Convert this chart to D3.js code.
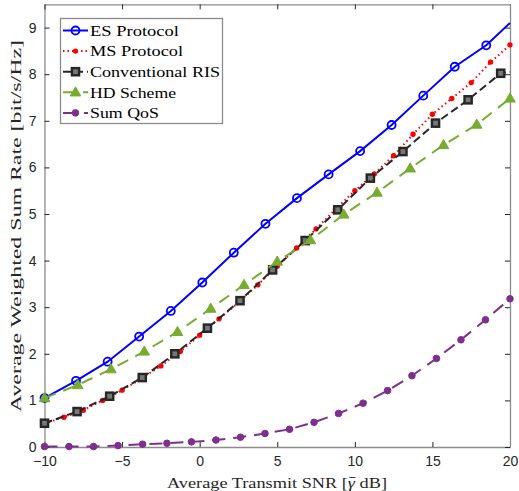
<!DOCTYPE html>
<html><head><meta charset="utf-8">
<script src="https://cdn.jsdelivr.net/npm/d3@7"></script>
<style>body{margin:0;background:#fff}svg{display:block}</style>
</head><body>
<svg id="c" width="519" height="491"></svg>
<script>
// ---- data ----
const esX  = [-10,-7.97,-5.93,-3.9,-1.86,0.17,2.2,4.24,6.27,8.31,10.34,12.37,14.41,16.44,18.47,20];
const esY  = [1.05,1.42,1.83,2.37,2.92,3.53,4.17,4.79,5.34,5.85,6.35,6.91,7.54,8.16,8.62,9.10];
const msX  = [-10,-8.75,-7.5,-6.25,-5,-3.75,-2.5,-1.25,0,1.25,2.5,3.75,5,6.25,7.5,8.75,10,11.25,12.5,13.75,15,16.25,17.5,18.75,20];
const msY  = [0.5,0.64,0.79,1.0,1.22,1.47,1.74,2.05,2.40,2.75,3.10,3.48,3.88,4.27,4.68,5.10,5.50,5.86,6.25,6.71,7.14,7.48,7.82,8.26,8.63];
const crX  = [-10,-7.9,-5.8,-3.7,-1.6,0.5,2.6,4.7,6.8,8.9,11.0,13.1,15.2,17.3,19.4,20];
const crY  = [0.51,0.76,1.09,1.49,2.0,2.55,3.14,3.80,4.43,5.09,5.77,6.34,6.95,7.45,8.02,8.05];
const hdX  = [-10,-7.857,-5.714,-3.571,-1.429,0.714,2.857,5,7.143,9.286,11.429,13.571,15.714,17.857,20];
const hdY  = [1.05,1.33,1.67,2.05,2.47,2.97,3.48,3.98,4.44,4.99,5.46,5.98,6.48,6.92,7.48];
const qosX = [-10,-8.42,-6.84,-5.26,-3.68,-2.11,-0.53,1.05,2.63,4.21,5.79,7.37,8.95,10.53,12.11,13.68,15.26,16.84,18.42,20];
const qosY = [0.01,0.01,0.01,0.03,0.06,0.08,0.11,0.15,0.21,0.29,0.38,0.53,0.72,0.94,1.21,1.53,1.90,2.30,2.73,3.18];
const names = ["ES Protocol","MS Protocol","Conventional RIS","HD Scheme","Sum QoS"];
const xTicks = [-10,-5,0,5,10,15,20];
const yTicks = [0,1,2,3,4,5,6,7,8,9];

// ---- layout ----
const L = 44.5, R = 510, T = 4.3, B = 447;
const x = d3.scaleLinear().domain([-10,20]).range([L,R]);
const y = d3.scaleLinear().domain([0,9.5]).range([B,T]);
const svg = d3.select("#c");
const tickColor = "#262626";
const serif = "'Liberation Serif','Times New Roman',serif";

const series = [
  {name:names[0], xs:esX, ys:esY, nMark:15, color:"#0000ff", dash:null, marker:"circle"},
  {name:names[1], xs:msX, ys:msY, nMark:25, color:"#ff0000", dash:"1.5,3", marker:"dot"},
  {name:names[2], xs:crX, ys:crY, nMark:15, color:"#262626", dash:"8,4", marker:"square"},
  {name:names[3], xs:hdX, ys:hdY, nMark:15, color:"#77ac30", dash:"12,8", marker:"triangle"},
  {name:names[4], xs:qosX, ys:qosY, nMark:20, color:"#7e2f8e", dash:"13,8", marker:"hex"}
];

// axes
const gx = svg.append("g").attr("transform",`translate(0,${B})`)
  .call(d3.axisBottom(x).tickValues(xTicks).tickSizeInner(-5).tickSizeOuter(0).tickPadding(9).tickFormat(d3.format("d")));
const gy = svg.append("g").attr("transform",`translate(${L},0)`)
  .call(d3.axisLeft(y).tickValues(yTicks).tickSizeInner(-5).tickSizeOuter(0).tickPadding(8).tickFormat(d3.format("d")));
const gx2 = svg.append("g").attr("transform",`translate(0,${T})`)
  .call(d3.axisTop(x).tickValues(xTicks).tickSizeInner(-5).tickSizeOuter(0).tickFormat(""));
const gy2 = svg.append("g").attr("transform",`translate(${R},0)`)
  .call(d3.axisRight(y).tickValues(yTicks).tickSizeInner(-5).tickSizeOuter(0).tickFormat(""));
[gx,gy,gx2,gy2].forEach(g=>{
  g.select(".domain").attr("stroke","#8c8c8c").attr("stroke-width",1.3);
  g.selectAll(".tick line").attr("stroke",tickColor);
  g.selectAll(".tick text").attr("fill",tickColor).style("font-family","'Liberation Sans',Arial,sans-serif").style("font-size","14px");
});

// series
const line = d3.line().x(d=>x(d[0])).y(d=>y(d[1]));
function drawMarker(g, type, cx, cy, color){
  if(type==="circle") g.append("circle").attr("cx",cx).attr("cy",cy).attr("r",4).attr("fill","none").attr("stroke",color).attr("stroke-width",1.8);
  else if(type==="dot") g.append("circle").attr("cx",cx).attr("cy",cy).attr("r",2.7).attr("fill",color);
  else if(type==="square") g.append("rect").attr("x",cx-3.6).attr("y",cy-3.6).attr("width",7.2).attr("height",7.2).attr("fill","#777").attr("stroke",color).attr("stroke-width",2.4);
  else if(type==="triangle") g.append("path").attr("d",d3.symbol().type(d3.symbolTriangle).size(48)()).attr("transform",`translate(${cx},${cy+0.6})`).attr("fill",color).attr("stroke",color).attr("stroke-width",1);
  else if(type==="hex") g.append("path").attr("d",d3.symbol().type(d3.symbolCircle).size(34)()).attr("transform",`translate(${cx},${cy})`).attr("fill",color).attr("stroke",color).attr("stroke-width",1);
}
series.forEach(s=>{
  const pts = s.xs.map((v,i)=>[v,s.ys[i]]);
  const g = svg.append("g");
  g.append("path").datum(pts).attr("d",line).attr("fill","none").attr("stroke",s.color)
    .attr("stroke-width",2).attr("stroke-dasharray",s.dash);
  pts.slice(0,s.nMark).forEach(p=>drawMarker(g,s.marker,x(p[0]),y(p[1]),s.color));
});

// legend
const lg = svg.append("g");
lg.append("rect").attr("x",60.5).attr("y",18.5).attr("width",162).attr("height",105).attr("fill","#fff").attr("stroke","#8c8c8c").attr("stroke-width",1.3);
const legW = [89,93,130,86,69];
series.forEach((s,i)=>{
  const yy = 30.5 + i*20.6;
  lg.append("line").attr("x1",63).attr("x2",88).attr("y1",yy).attr("y2",yy).attr("stroke",s.color).attr("stroke-width",2).attr("stroke-dasharray",s.dash);
  drawMarker(lg,s.marker,75.5,yy,s.color);
  lg.append("text").attr("x",90).attr("y",yy+5.3).text(s.name)
    .style("font-family",serif).style("font-size","15.5px").attr("fill","#000")
    .attr("textLength",legW[i]).attr("lengthAdjust","spacingAndGlyphs");
});

// axis titles
const xt = svg.append("text").attr("x",277).attr("y",488).attr("text-anchor","middle")
  .style("font-family",serif).style("font-size","15.5px").attr("fill","#262626")
  .attr("textLength",220).attr("lengthAdjust","spacingAndGlyphs");
xt.append("tspan").text("Average Transmit SNR [");
const gam = xt.append("tspan").style("font-style","italic").text("\u03B3");
xt.append("tspan").text(" dB]");
// macron over gamma
const idx = "Average Transmit SNR [".length;
try{
  const ext = xt.node().getExtentOfChar(idx);
  svg.append("line").attr("x1",ext.x+1.5).attr("x2",ext.x+ext.width+0.5)
    .attr("y1",ext.y+3.5).attr("y2",ext.y+3.5).attr("stroke","#262626").attr("stroke-width",0.9);
}catch(e){}
svg.append("text").attr("transform","translate(21,226) rotate(-90)").attr("text-anchor","middle")
  .style("font-family",serif).style("font-size","15px").attr("fill","#262626")
  .attr("textLength",372).attr("lengthAdjust","spacingAndGlyphs")
  .text("Average Weighted Sum Rate [bit/s/Hz]");
</script>
</body></html>
